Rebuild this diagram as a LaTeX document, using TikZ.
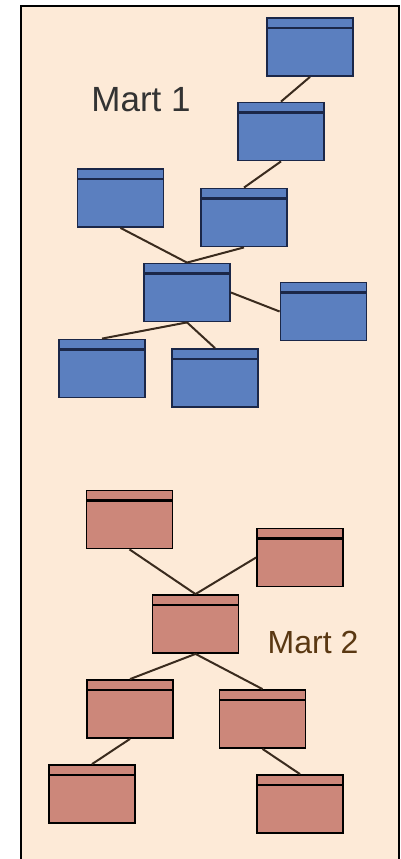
\documentclass[tikz,border=0pt]{standalone}
\usepackage{fontspec}
\usepackage{tikz}
\usetikzlibrary{positioning}
\newfontfamily\martfont{Liberation Sans}
\definecolor{peach}{HTML}{FDEAD7}
\definecolor{tblblue}{HTML}{5B7FBF}
\definecolor{tblred}{HTML}{CC877A}
\definecolor{bluedark}{HTML}{1B2748}
\definecolor{linkbrown}{HTML}{3A2B1E}
\definecolor{martbrown}{HTML}{5A3812}

\begin{document}
\begin{tikzpicture}[x={(1pt,0)}, y={(0,-1pt)},
    tbl/.style={rectangle, draw, line width=1.8pt, minimum width=86pt, minimum height=58pt, inner sep=0pt,
        path picture={\draw[line width=2.4pt] ([yshift=-10pt]path picture bounding box.north west) -- ([yshift=-10pt]path picture bounding box.north east);}},
    bluetbl/.style={tbl, fill=tblblue, draw=bluedark},
    redtbl/.style={tbl, fill=tblred, draw=black},
    link/.style={draw=linkbrown, line width=2pt}]

\useasboundingbox (0,0) rectangle (401,859);

% Background panel
\draw[fill=peach, line width=2.5pt] (21,6) rectangle (399,875);

% Labels
\node[font=\martfont\fontsize{35}{40}\selectfont, text=black!80] (mart1) at (141,100) {Mart 1};
\node[font=\martfont\fontsize{32}{36}\selectfont, text=martbrown] (mart2) at (313,642) {Mart 2};

% Mart 1 tables
\node[bluetbl] (b1) at (310,47) {};
\node[bluetbl] (b2) at (281,131.5) {};
\node[bluetbl] (b3) at (120.5,198) {};
\node[bluetbl] (b4) at (244,217.5) {};
\node[bluetbl] (b5) at (187,292.5) {};
\node[bluetbl] (b6) at (323.5,311.5) {};
\node[bluetbl] (b7) at (102,368.5) {};
\node[bluetbl] (b8) at (215,378) {};

% Mart 2 tables
\node[redtbl] (r1) at (129.5,519.5) {};
\node[redtbl] (r2) at (300,557.5) {};
\node[redtbl] (r3) at (195.5,624) {};
\node[redtbl] (r4) at (130,709) {};
\node[redtbl] (r5) at (262.5,719) {};
\node[redtbl] (r6) at (92,794) {};
\node[redtbl] (r7) at (300,804) {};

% Mart 1 links
\draw[link] (b1.south) -- (b2.north);
\draw[link] (b2.south) -- (b4.north);
\draw[link] (b3.south) -- (b5.north);
\draw[link] (b4.south) -- (b5.north);
\draw[link] (b5.east) -- (b6.west);
\foreach \j in {7,8} {
    \draw[link] (b5.south) -- (b\j.north);
}

% Mart 2 links
\draw[link] (r1.south) -- (r3.north);
\draw[link] (r2.west) -- (r3.north);
\foreach \j in {4,5} {
    \draw[link] (r3.south) -- (r\j.north);
}
\draw[link] (r4.south) -- (r6.north);
\draw[link] (r5.south) -- (r7.north);

\end{tikzpicture}
\end{document}
